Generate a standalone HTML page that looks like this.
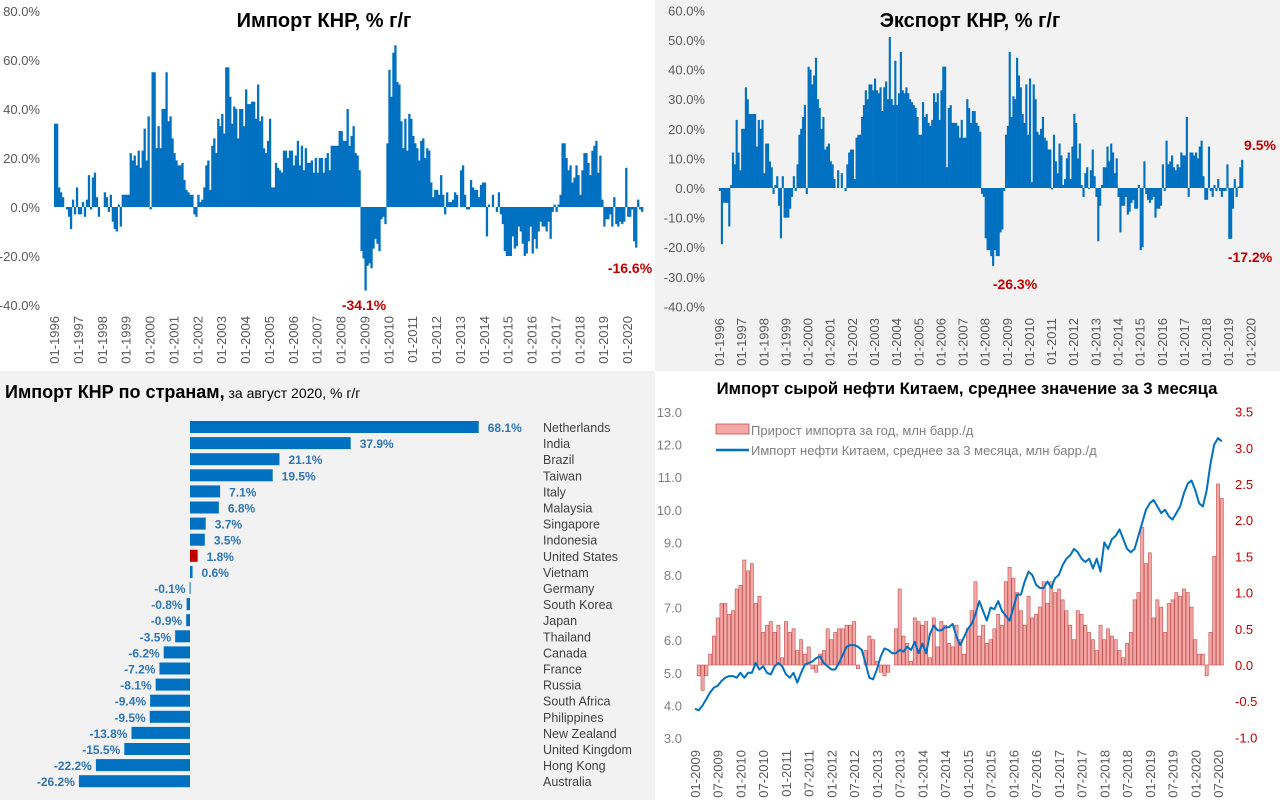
<!DOCTYPE html>
<html><head><meta charset="utf-8"><style>
html,body{margin:0;padding:0;width:1280px;height:800px;overflow:hidden;font-family:"Liberation Sans",sans-serif}
svg text{font-family:"Liberation Sans",sans-serif}
</style></head><body>
<svg id="s" width="1280" height="800" xmlns="http://www.w3.org/2000/svg">
<rect x="0" y="0" width="655" height="371" fill="#ffffff"/>
<rect x="655" y="0" width="625" height="371" fill="#f2f2f2"/>
<rect x="0" y="371" width="655" height="429" fill="#f2f2f2"/>
<rect x="655" y="371" width="625" height="429" fill="#ffffff"/>
<g id="g1"></g>
<g id="g2"></g>
<g id="g3"></g>
<g id="g4"></g>
</svg>
<script>
const importVals=[].concat(
[34,34,8,6,4,0,-1,-4,-9,3,-3,8],
[-3,-3,2,-4,3,13,-1,12,14,4,-4,0],
[0,6,4,-2,5,-6,-9,-10,1,-8,5,5],
[5,5,22,19,21,17,23,16,23,32,19,37],
[-1,55,55,24,33,24,40,40,55,35,37,28],
[22,19,17,17,18,11,7,6,5,5,-3,-4],
[5,2,3,8,17,19,7,25,28,22,36,33],
[38,30,57,57,45,34,41,40,28,40,40,33],
[48,42,42,43,43,36,50,35,37,24,22,27],
[36,8,8,18,16,15,14,23,23,20,23,23],
[17,21,27,17,25,15,24,18,18,19,14,20],
[14,20,20,14,20,22,15,25,25,25,25,31],
[31,27,27,40,25,29,33,22,21,15,-18,-21],
[-34.1,-24,-23,-25,-17,-13,-15,-18,-5,-4,-7,26],
[56,45,63,66,51,50,35,24,36,23,38,36],
[29,26,24,19,27,28,20,24,23,10,4,7],
[7,5,13,5,-3,6,2,2,3,6,5,0],
[15,17,5,-1,-1,11,8,7,7,4,9,10],
[10,-12,1,0,5,0,-2,6,-3,-7,-18,-20],
[-20,-20,-12,-17,-16,-8,-10,-15,-20,-19,-14,-8],
[-19,-13,-17,-10,-6,-8,-8,-10,-6,-13,-2,1],
[-2,1,5,26,26,20,15,17,10,12,17,13],
[5,15,22,22,18,13,23,25,27,14,21,3],
[-8,-5,-5,-3,-8,4,-7,-8,-6,-7,-6,16],
[-4,-4,-1,-14,-16.6,3,-1,-2]);
const exportVals=[].concat(
[-1,-19,-5,-5,-5,-13,1,12,8,23,12,6],
[20,20,34,30,25,25,25,25,14,23,20,23],
[5,15,15,9,7,-2,1,4,-6,-17,4,-10],
[-10,-10,-7,-3,4,-1,8,18,20,24,28,-2],
[41,40,35,38,44,30,27,20,24,13,14,15],
[9,8,3,0,6,0,5,0,-1,8,12,13],
[13,3,17,18,18,24,28,33,30,35,35,33],
[37,33,32,34,26,34,36,30,51,30,28,43],
[28,32,46,33,32,34,32,30,29,28,27,24],
[18,18,29,24,25,22,21,23,32,29,32,23],
[33,41,41,7,27,28,22,22,22,21,17,23],
[17,17,30,27,22,26,26,22,21,19,-2,-3],
[-17,-21,-21,-23,-26.3,-21,-23,-23,-15,-14,-1,18],
[21,46,24,31,30,44,38,34,25,22,35,18],
[37,2,35,30,19,18,20,24,17,16,13,13],
[-0.5,18,9,5,15,11,1,3,10,12,3,14],
[25,22,10,15,1,-3,5,7,-0.3,6,13,4],
[-3,-18,-6,1,7,7,14,9,15,12,5,10],
[-3,-15,-6,-6,-3,-9,-8,-5,-4,-7,-7,1],
[-21,-20,9,-2,-4,-5,-4,-3,-10,-7,-7,-6],
[8,-1,16,8,9,11,7,6,8,7,12,11],
[11,24,-3,12,12,11,12,10,14,16,4,-4],
[-4,14,-1,-3,1,-1,3,-1,-3,-1,-1,8],
[-17.2,-17.2,-7,3,-3,0.5,7,9.5]);
const yearLabels=["1996","1997","1998","1999","2000","2001","2002","2003","2004","2005","2006","2007","2008","2009","2010","2011","2012","2013","2014","2015","2016","2017","2018","2019","2020"];
const importTicks=[80,60,40,20,0,-20,-40];
const exportTicks=[60,50,40,30,20,10,0,-10,-20,-30,-40];
const countries=["Netherlands","India","Brazil","Taiwan","Italy","Malaysia","Singapore","Indonesia","United States","Vietnam","Germany","South Korea","Japan","Thailand","Canada","France","Russia","South Africa","Philippines","New Zealand","United Kingdom","Hong Kong","Australia"];
const countryVals=[68.1,37.9,21.1,19.5,7.1,6.8,3.7,3.5,1.8,0.6,-0.1,-0.8,-0.9,-3.5,-6.2,-7.2,-8.1,-9.4,-9.5,-13.8,-15.5,-22.2,-26.2];
const oilLine=[].concat(
[3.9,3.85,4.0,4.2,4.4,4.55,4.6,4.75,4.85,4.9,4.9,4.85],
[5.0,4.85,5.0,5.0,5.3,5.1,5.2,5.0,4.95,5.2,5.3,5.2],
[4.95,4.85,5.0,4.7,5.0,5.25,5.3,5.35,5.45,5.5,5.3,5.2],
[5.1,5.1,5.3,5.55,5.8,5.85,5.85,5.8,5.7,5.3,4.85,4.8],
[5.1,5.5,5.75,5.7,5.6,5.6,5.7,5.65,5.8,5.7,5.95,5.6],
[5.9,5.6,6.2,6.45,6.3,6.3,6.4,6.4,6.5,6.1,5.85,6.1],
[6.35,6.5,6.8,7.2,6.9,6.6,7.0,6.95,7.2,6.9,6.75,6.6],
[7.0,7.4,7.4,7.8,8.1,8.0,7.7,7.6,7.6,7.8,7.6,7.9],
[8.0,8.3,8.5,8.6,8.8,8.7,8.5,8.4,8.5,8.2,8.5,8.1],
[9.0,8.8,9.1,9.2,9.4,9.1,8.8,8.7,8.8,9.2,9.6,10.0],
[10.2,10.3,10.1,9.9,10.0,9.8,9.7,9.9,10.1,10.5,10.8,10.9],
[10.6,10.2,10.1,10.6,11.4,12.0,12.2,12.1]);
const oilBars=[].concat(
[0.0,-0.15,-0.35,-0.15,0.15,0.4,0.65,0.85,0.85,0.7,0.75,1.05],
[1.1,1.45,1.3,1.4,0.85,0.95,0.45,0.55,0.6,0.45,0.55,0.1],
[0.6,0.45,0.5,0.2,0.35,0.15,0.25,-0.05,-0.1,0.15,0.2,0.5],
[0.35,0.45,0.5,0.5,0.55,0.55,0.6,-0.05,0.0,0.2,0.4,0.35],
[0.05,-0.1,-0.15,-0.1,0.0,0.5,1.05,0.4,0.3,0.05,0.65,0.6],
[0.55,0.6,0.1,0.65,0.25,0.6,0.55,0.3,0.25,0.55,0.35,0.15],
[0.5,0.75,1.15,0.4,0.55,0.3,0.35,0.5,0.7,0.55,1.15,1.35],
[1.2,1.0,0.75,0.55,0.95,0.65,0.7,0.8,1.15,0.85,1.15,1.0],
[1.05,0.9,0.75,0.55,0.35,0.75,0.7,0.55,0.45,0.35,0.2,0.55],
[0.35,0.5,0.4,0.35,0.2,0.1,0.3,0.45,0.9,1.0,1.9,1.4],
[1.55,0.65,0.9,0.8,0.45,0.85,0.9,1.0,0.95,1.05,1.0,0.8],
[0.35,0.15,0.15,-0.15,0.45,1.5,2.5,2.3]);
const oilLeftTicks=[13,12,11,10,9,8,7,6,5,4,3];
const oilRightTicks=[3.5,3.0,2.5,2.0,1.5,1.0,0.5,0.0,-0.5,-1.0];
const oilXLabels=["01-2009","07-2009","01-2010","07-2010","01-2011","07-2011","01-2012","07-2012","01-2013","07-2013","01-2014","07-2014","01-2015","07-2015","01-2016","07-2016","01-2017","07-2017","01-2018","07-2018","01-2019","07-2019","01-2020","07-2020"];

const NS="http://www.w3.org/2000/svg";
function mk(parent,tag,attrs,txt){const e=document.createElementNS(NS,tag);for(const k in attrs)e.setAttribute(k,attrs[k]);if(txt!==undefined)e.textContent=txt;parent.appendChild(e);return e;}
const BLUE="#0070c0",RED="#c00000",GRAY="#595959";

function barChart(g,vals,x0,pitch,zeroY,pxPer,ticks,labX,tickTop,name){
  const xs=i=>x0+i*pitch, ys=v=>zeroY-v*pxPer;
  ticks.forEach(t=>{const e=mk(g,'text',{x:labX,y:ys(t)+5,'text-anchor':'end','font-size':13,fill:GRAY},t.toFixed(1)+'%');
    
    });
  vals.forEach((v,i)=>{const r=mk(g,'rect',{x:xs(i),y:Math.min(ys(v),zeroY),width:pitch+0.3,height:Math.abs(v*pxPer),fill:BLUE});
    
    });
  yearLabels.forEach((y,k)=>{const x=xs(k*12)+5;const e=mk(g,'text',{transform:`translate(${x},${tickTop}) rotate(-90)`,'text-anchor':'end','font-size':13,fill:GRAY},'01-'+y);
    
    });
}
const g1=document.getElementById('g1');
barChart(g1,importVals,54,1.99,207,2.45,importTicks,40,316,'import');
let t=mk(g1,'text',{x:324,y:27,'text-anchor':'middle','font-size':20,'font-weight':'bold',fill:'#000'},'Импорт КНР, % г/г');

t=mk(g1,'text',{x:364,y:310,'text-anchor':'middle','font-size':14,'font-weight':'bold',fill:RED},'-34.1%');

t=mk(g1,'text',{x:630,y:273,'text-anchor':'middle','font-size':14,'font-weight':'bold',fill:RED},'-16.6%');


const g2=document.getElementById('g2');
barChart(g2,exportVals,719,1.845,188,2.96,exportTicks,705,318,'export');
t=mk(g2,'text',{x:970,y:27,'text-anchor':'middle','font-size':20,'font-weight':'bold',fill:'#000'},'Экспорт КНР, % г/г');

t=mk(g2,'text',{x:1015,y:289,'text-anchor':'middle','font-size':14,'font-weight':'bold',fill:RED},'-26.3%');

t=mk(g2,'text',{x:1260,y:150,'text-anchor':'middle','font-size':14,'font-weight':'bold',fill:RED},'9.5%');

t=mk(g2,'text',{x:1250,y:262,'text-anchor':'middle','font-size':14,'font-weight':'bold',fill:RED},'-17.2%');


const g3=document.getElementById('g3');
t=mk(g3,'text',{x:5,y:398,'font-size':18,'font-weight':'bold',fill:'#000'});

mk(t,'tspan',{},'Импорт КНР по странам,');
mk(t,'tspan',{'font-size':14,'font-weight':'normal'},' за август 2020, % г/г');
const cz=190,cs=4.24,cy0=421,cstep=16.1;
countries.forEach((c,i)=>{const v=countryVals[i];const y=cy0+i*cstep;
  const r=mk(g3,'rect',{x:v>=0?cz:cz+v*cs,y:y,width:Math.max(Math.abs(v*cs),1),height:12,fill:c==="United States"?RED:BLUE});
  
  
  const lx=v>=0?cz+v*cs+9:cz+v*cs-4;
  const l=mk(g3,'text',{x:lx,y:y+11,'text-anchor':v>=0?'start':'end','font-size':12,'font-weight':'bold',fill:'#2e75b6'},v.toFixed(1)+'%');
  
  
  const n=mk(g3,'text',{x:543,y:y+11,'font-size':12.5,fill:'#404040'},c);
  
  
});

const g4=document.getElementById('g4');
const ox0=695,op=3.79,yl=v=>412+(13-v)*32.6,yr=v=>665-v*72.4;
t=mk(g4,'text',{x:967,y:394,'text-anchor':'middle','font-size':16.7,'font-weight':'bold',fill:'#000'},'Импорт сырой нефти Китаем, среднее значение за 3 месяца');

oilLeftTicks.forEach(v=>{const e=mk(g4,'text',{x:682,y:yl(v)+5,'text-anchor':'end','font-size':13,fill:'#7f7f7f'},v.toFixed(1));
  
  });
oilRightTicks.forEach(v=>{const e=mk(g4,'text',{x:1235,y:yr(v)+5,'font-size':13,fill:RED},v.toFixed(1));
  
  });
oilBars.forEach((v,i)=>{const r=mk(g4,'rect',{x:ox0+i*op-1.6,y:Math.min(yr(v),yr(0)),width:3.2,height:Math.abs(yr(v)-yr(0)),fill:'#f4a7a7',stroke:'#c0504d','stroke-width':0.6});
  
  });
const pts=oilLine.map((v,i)=>(ox0+i*op).toFixed(1)+','+yl(v).toFixed(1)).join(' ');
t=mk(g4,'polyline',{points:pts,fill:'none',stroke:'#0070c0','stroke-width':2,'stroke-linejoin':'round'});

oilXLabels.forEach((s,k)=>{const x=ox0+k*6*op+5;const e=mk(g4,'text',{transform:`translate(${x},750) rotate(-90)`,'text-anchor':'end','font-size':13,fill:GRAY},s);
  
  });
t=mk(g4,'rect',{x:716,y:424,width:33,height:10,fill:'#f4a7a7',stroke:'#c0504d','stroke-width':0.8});

t=mk(g4,'text',{x:751,y:435,'font-size':13,fill:'#7f7f7f'},'Прирост импорта за год, млн барр./д');

t=mk(g4,'line',{x1:716,y1:450,x2:749,y2:450,stroke:'#0070c0','stroke-width':2.5});

t=mk(g4,'text',{x:751,y:455,'font-size':13,fill:'#7f7f7f'},'Импорт нефти Китаем, среднее за 3 месяца, млн барр./д');

</script>
</body></html>
